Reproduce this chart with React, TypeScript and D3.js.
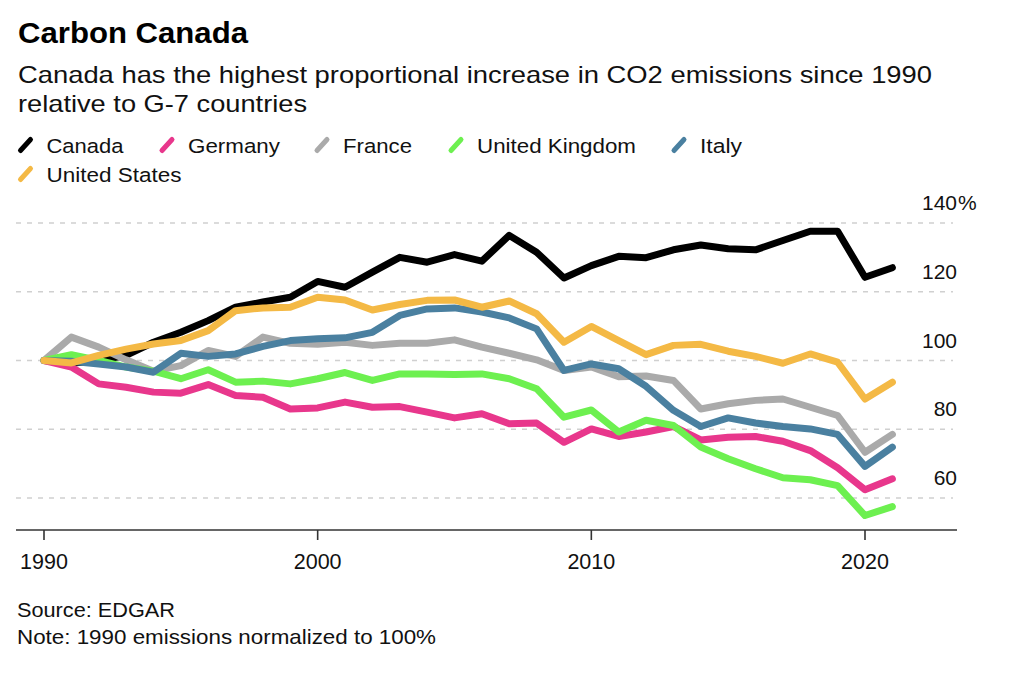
import React from "react";
import * as d3 from "d3";

const years = [1990, 1991, 1992, 1993, 1994, 1995, 1996, 1997, 1998, 1999, 2000, 2001, 2002, 2003, 2004, 2005, 2006, 2007, 2008, 2009, 2010, 2011, 2012, 2013, 2014, 2015, 2016, 2017, 2018, 2019, 2020, 2021];

const canada = [100, 99.2, 100, 101.5, 105.3, 108.2, 111.6, 115.5, 117, 118.4, 123, 121.3, 125.7, 130, 128.6, 130.8, 128.9, 136.4, 131.5, 124, 127.6, 130.3, 129.9, 132.2, 133.6, 132.5, 132.2, 134.9, 137.6, 137.6, 124.2, 127];
const germany = [100, 98.1, 93.2, 92.2, 90.8, 90.5, 93, 89.8, 89.3, 85.9, 86.2, 87.9, 86.4, 86.6, 85, 83.3, 84.5, 81.6, 81.8, 76.2, 80.1, 77.9, 79.2, 80.8, 76.9, 77.7, 77.9, 76.5, 73.8, 68.8, 62.4, 65.6];
const france = [100, 106.8, 103.9, 100.2, 96.9, 98.5, 102.9, 101.2, 106.8, 105, 104.7, 105.3, 104.4, 105, 105, 106, 103.9, 102.1, 100.2, 97.1, 98.1, 95.3, 95.5, 94.2, 85.9, 87.4, 88.4, 88.8, 86.4, 84, 73.3, 78.5];
const unitedKingdom = [100, 101.7, 100, 98.1, 96.9, 94.7, 97.3, 93.7, 94, 93.2, 94.7, 96.5, 94.2, 96.1, 96.1, 95.9, 96.1, 94.7, 91.8, 83.5, 85.6, 79.2, 82.6, 81.1, 74.8, 71.4, 68.5, 65.9, 65.3, 63.6, 54.9, 57.5];
const italy = [100, 99.8, 99, 98.1, 96.6, 102.1, 101.2, 101.9, 104.1, 105.8, 106.3, 106.6, 108.2, 113.1, 115, 115.3, 114.1, 112.4, 109.2, 97.1, 99, 97.6, 92.5, 85.5, 80.8, 83.3, 81.8, 80.8, 80.1, 78.5, 69.2, 74.8];
const unitedStates = [100, 99.3, 101.5, 103.3, 104.8, 105.8, 108.7, 114.5, 115.3, 115.5, 118.4, 117.6, 114.7, 116.3, 117.5, 117.6, 115.5, 117.3, 113.6, 105.3, 109.9, 105.8, 101.7, 104.4, 104.7, 102.7, 101.2, 99.2, 101.9, 99.5, 88.8, 93.7];

const seriesNames = ["Canada", "Germany", "France", "United Kingdom", "Italy", "United States"];
const seriesValues = [canada, germany, france, unitedKingdom, italy, unitedStates];
const seriesColors = ["#000000", "#e8378c", "#aaaaaa", "#6df050", "#4a80a0", "#f4b945"];

const yTicks = [60, 80, 100, 120, 140];
const xTicks = [1990, 2000, 2010, 2020];

const title = "Carbon Canada";
const subtitleLines = ["Canada has the highest proportional increase in CO2 emissions since 1990", "relative to G-7 countries"];
const sourceText = "Source: EDGAR";
const noteText = "Note: 1990 emissions normalized to 100%";

const FONT = "'Liberation Sans', Arial, Helvetica, sans-serif";

// legend layout: text x, baseline y, text width
const legendPos = [
  [46.5, 152.5, 77],
  [188, 152.5, 92],
  [343, 152.5, 69],
  [477, 152.5, 159],
  [700, 152.5, 42],
  [46.5, 181.5, 135],
];

export default function App() {
  const x = d3.scaleLinear().domain([1990, 2020]).range([44, 865]);
  const y = d3.scaleLinear().domain([60, 140]).range([498, 223]);
  const line = d3
    .line<number>()
    .x((_, i) => x(years[i]))
    .y((d) => y(d));

  return (
    <svg
      width={1024}
      height={676}
      style={{ position: "absolute", left: 0, top: 0, background: "#fff" }}
      fontFamily={FONT}
    >
      <rect x={0} y={0} width={1024} height={676} fill="#fff" />
      <text x={18} y={43} fontSize={29} fontWeight="bold" fill="#000" textLength={230} lengthAdjust="spacingAndGlyphs">
        {title}
      </text>
      <text x={18} y={83} fontSize={24} fill="#111" textLength={914} lengthAdjust="spacingAndGlyphs">
        {subtitleLines[0]}
      </text>
      <text x={18} y={111.5} fontSize={24} fill="#111" textLength={289} lengthAdjust="spacingAndGlyphs">
        {subtitleLines[1]}
      </text>

      {seriesNames.map((name, i) => {
        const [tx, ty, tw] = legendPos[i];
        return (
          <g key={name}>
            <line
              x1={tx - 26}
              y1={ty - 2}
              x2={tx - 16}
              y2={ty - 13}
              stroke={seriesColors[i]}
              strokeWidth={5}
              strokeLinecap="round"
            />
            <text x={tx} y={ty} fontSize={20.5} fill="#111" textLength={tw} lengthAdjust="spacingAndGlyphs">
              {name}
            </text>
          </g>
        );
      })}

      {yTicks.map((t) => (
        <g key={t}>
          <line
            x1={16}
            x2={953}
            y1={y(t)}
            y2={y(t)}
            stroke="#d0d0d0"
            strokeWidth={1.5}
            strokeDasharray="5 6"
          />
          <text x={957} y={y(t) - 13} fontSize={21} fill="#111" textAnchor="end">
            {t}
          </text>
          {t === 140 && (
            <text x={958} y={y(t) - 13} fontSize={21} fill="#111">
              %
            </text>
          )}
        </g>
      ))}

      {seriesValues.map((vals, i) => (
        <path
          key={seriesNames[i]}
          d={line(vals) || ""}
          fill="none"
          stroke={seriesColors[i]}
          strokeWidth={7}
          strokeLinejoin="round"
          strokeLinecap="round"
        />
      ))}

      <line x1={16} x2={957} y1={530} y2={530} stroke="#333" strokeWidth={1.6} />
      {xTicks.map((t) => (
        <g key={t}>
          <line x1={x(t)} x2={x(t)} y1={530} y2={540} stroke="#333" strokeWidth={1.6} />
          <text x={x(t)} y={569} fontSize={21.5} fill="#111" textAnchor="middle">
            {t}
          </text>
        </g>
      ))}

      <text x={17} y={616.5} fontSize={21} fill="#111" textLength={158} lengthAdjust="spacingAndGlyphs">
        {sourceText}
      </text>
      <text x={17} y={643.5} fontSize={21} fill="#111" textLength={419} lengthAdjust="spacingAndGlyphs">
        {noteText}
      </text>
    </svg>
  );
}
